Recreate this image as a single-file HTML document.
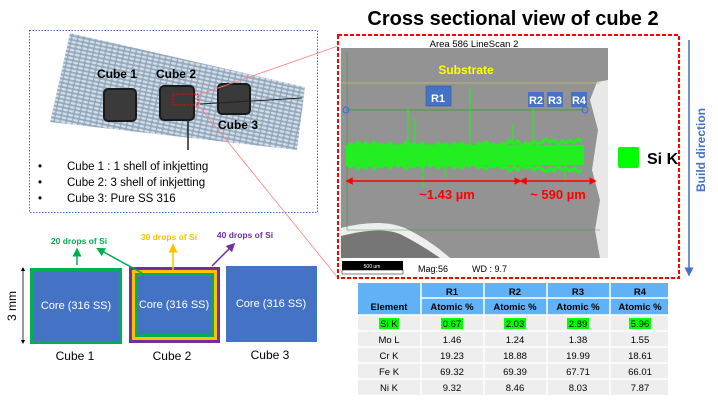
<!DOCTYPE html>
<html><head><meta charset="utf-8"><style>
body{margin:0;background:#fff;}
svg{display:block;font-family:"Liberation Sans",sans-serif;}
</style></head><body>
<svg width="718" height="400" viewBox="0 0 718 400" xmlns="http://www.w3.org/2000/svg">
<defs>
<pattern id="mesh" width="6" height="4" patternUnits="userSpaceOnUse" patternTransform="rotate(12)">
<rect width="6" height="4" fill="#93a8bd"/><ellipse cx="3" cy="2" rx="2.6" ry="1.2" fill="#d3dde8"/>
</pattern>
<marker id="ag" markerWidth="6" markerHeight="6" refX="3" refY="3" orient="auto"><path d="M0,0L6,3L0,6z" fill="#00b050"/></marker>
<marker id="ay" markerWidth="6" markerHeight="6" refX="3" refY="3" orient="auto"><path d="M0,0L6,3L0,6z" fill="#ffc000"/></marker>
<marker id="ap" markerWidth="6" markerHeight="6" refX="3" refY="3" orient="auto"><path d="M0,0L6,3L0,6z" fill="#7030a0"/></marker>
<marker id="ab" markerWidth="6" markerHeight="6" refX="3" refY="3" orient="auto"><path d="M0,0L6,3L0,6z" fill="#4472c4"/></marker>
<marker id="ar" markerWidth="5" markerHeight="5" refX="2.5" refY="2.5" orient="auto-start-reverse"><path d="M0,0L5,2.5L0,5z" fill="#ff0000"/></marker>
<marker id="ak" markerWidth="5" markerHeight="5" refX="2.5" refY="2.5" orient="auto-start-reverse"><path d="M0,0L5,2.5L0,5z" fill="#000"/></marker>
</defs>

<text x="513" y="25" font-size="20" font-weight="bold" text-anchor="middle">Cross sectional view of cube 2</text>

<rect x="29.5" y="30.5" width="288" height="182" fill="none" stroke="#4472c4" stroke-dasharray="1.5,1.5"/>
<polygon points="70,33 305,87 297,150 50,122" fill="url(#mesh)"/>
<rect x="104" y="89" width="32" height="32" rx="4" fill="#3a3a3a" stroke="#1a1a1a" stroke-width="2"/>
<rect x="160" y="86" width="34" height="34" rx="4" fill="#3a3a3a" stroke="#1a1a1a" stroke-width="2"/>
<rect x="218" y="84" width="32" height="30" rx="4" fill="#3a3a3a" stroke="#1a1a1a" stroke-width="2"/>
<line x1="188" y1="120" x2="188" y2="150" stroke="#222" stroke-width="1.5"/>
<line x1="200" y1="104" x2="302" y2="98" stroke="#222" stroke-width="1"/>
<rect x="173" y="94" width="25" height="11" fill="none" stroke="#f00" stroke-dasharray="2,1"/>
<text x="117" y="78" font-size="12" font-weight="bold" text-anchor="middle">Cube 1</text>
<text x="176" y="78" font-size="12" font-weight="bold" text-anchor="middle">Cube 2</text>
<text x="238" y="129" font-size="12" font-weight="bold" text-anchor="middle">Cube 3</text>
<line x1="198" y1="95" x2="338" y2="46" stroke="#ff8080" stroke-width="0.8"/>
<line x1="198" y1="105" x2="338" y2="278" stroke="#ff8080" stroke-width="0.8"/>
<g font-size="11.5">
<text x="38" y="170">•</text><text x="67" y="170">Cube 1 : 1 shell of inkjetting</text>
<text x="38" y="186">•</text><text x="67" y="186">Cube 2: 3 shell of inkjetting</text>
<text x="38" y="202">•</text><text x="67" y="202">Cube 3: Pure SS 316</text>
</g>

<rect x="31.5" y="269.5" width="89" height="73" fill="#4472c4" stroke="#00b050" stroke-width="3"/>
<rect x="129" y="267" width="91" height="76" fill="#7030a0"/>
<rect x="132" y="270" width="85" height="70" fill="#ffc000"/>
<rect x="135" y="273" width="79" height="64" fill="#00b050"/>
<rect x="138" y="276" width="73" height="58" fill="#4472c4"/>
<rect x="226" y="266" width="91" height="76" fill="#4472c4"/>
<g fill="#fff" font-size="11" text-anchor="middle">
<text x="76" y="309">Core (316 SS)</text>
<text x="174" y="308">Core (316 SS)</text>
<text x="271" y="307">Core (316 SS)</text>
</g>
<g font-size="12" text-anchor="middle">
<text x="75" y="360">Cube 1</text><text x="172" y="360">Cube 2</text><text x="270" y="359">Cube 3</text>
</g>
<line x1="23" y1="269" x2="23" y2="342" stroke="#000" stroke-width="0.8" marker-start="url(#ak)" marker-end="url(#ak)"/>
<text x="16" y="306" font-size="12" text-anchor="middle" transform="rotate(-90 16 306)">3 mm</text>
<line x1="77" y1="265" x2="77" y2="252" stroke="#00b050" stroke-width="1.5" marker-end="url(#ag)"/>
<line x1="142" y1="273" x2="100" y2="250" stroke="#00b050" stroke-width="1.5" marker-end="url(#ag)"/>
<line x1="173" y1="270" x2="173" y2="248" stroke="#ffc000" stroke-width="1.5" marker-end="url(#ay)"/>
<line x1="212" y1="266" x2="232" y2="246" stroke="#7030a0" stroke-width="1.5" marker-end="url(#ap)"/>
<text x="79" y="244" font-size="8.5" font-weight="bold" fill="#00b050" text-anchor="middle">20 drops of Si</text>
<text x="169" y="240" font-size="8.5" font-weight="bold" fill="#ffc000" text-anchor="middle">30 drops of Si</text>
<text x="245" y="238" font-size="8.5" font-weight="bold" fill="#7030a0" text-anchor="middle">40 drops of Si</text>

<rect x="338" y="35" width="341" height="243" fill="#fff" stroke="#ff0000" stroke-width="2" stroke-dasharray="4,2"/>
<text x="474" y="47" font-size="9.5" text-anchor="middle">Area 586 LineScan 2</text>
<rect x="341" y="48" width="267" height="210" fill="#939393"/>
<path d="M597,82 L608,80 L608,258 L600,258 L595,230 L600,200 L592,170 L598,130 L590,100 Z" fill="#e8e8e8"/>
<path d="M341,228 Q380,218 405,228 Q430,240 450,258 L341,258 Z" fill="#eeeeee"/>
<path d="M341,236 Q380,226 400,234 Q420,244 440,258 L341,258 Z" fill="#767676"/>
<line x1="341" y1="83" x2="600" y2="83" stroke="#c8c070" stroke-width="0.8"/>
<line x1="346" y1="110" x2="585" y2="110" stroke="#2a9a2a" stroke-width="0.8"/>
<circle cx="346" cy="110" r="3" fill="none" stroke="#4060ff"/>
<circle cx="585" cy="110" r="3" fill="none" stroke="#4060ff"/>
<line x1="347" y1="230" x2="600" y2="230" stroke="#3a9a3a" stroke-width="0.6"/>
<line x1="347" y1="52" x2="347" y2="230" stroke="#3a9a3a" stroke-width="0.6"/>
<text x="466" y="74" font-size="12" font-weight="bold" fill="#ffff00" text-anchor="middle">Substrate</text>
<rect x="426" y="86" width="25" height="20" fill="#4472c4" stroke="#2f528f" stroke-width="0.5"/>
<text x="438" y="102" font-size="11" font-weight="bold" fill="#fff" text-anchor="middle">R1</text>
<rect x="528" y="92" width="16" height="15" fill="#4472c4"/><text x="536" y="104" font-size="11" font-weight="bold" fill="#fff" text-anchor="middle">R2</text>
<rect x="547" y="92" width="16" height="15" fill="#4472c4"/><text x="555" y="104" font-size="11" font-weight="bold" fill="#fff" text-anchor="middle">R3</text>
<rect x="571" y="92" width="16" height="15" fill="#4472c4"/><text x="579" y="104" font-size="11" font-weight="bold" fill="#fff" text-anchor="middle">R4</text>
<rect x="346" y="145" width="238" height="20" fill="#22ee22"/>
<path d="M346,148 l4,-4 4,3 4,-5 4,4 4,-3 4,5 4,-6 4,4 4,-2 4,3 4,-4 4,5 4,-3 4,2 4,-5 4,4 4,-2 4,3 4,-4 4,5 4,-3 4,2 4,-4 4,3 4,-2 4,4 4,-5 4,3 4,-3 4,4 4,-2 4,3 4,-5 4,2 4,-3 4,4 4,-2 4,3 4,-4 4,2 4,-5 4,4 4,-3 4,5 4,-3 4,2 4,-4 4,3 4,-2 4,-3 4,4 4,-3 4,5 4,-4 4,2 4,-3 4,3 4,-4 4,2" stroke="#22ee22" stroke-width="3" fill="none"/>
<path d="M346,163 l4,4 4,-3 4,5 4,-4 4,3 4,-5 4,6 4,-4 4,2 4,-3 4,4 4,-5 4,3 4,-2 4,5 4,-4 4,2 4,-3 4,4 4,-5 4,3 4,-2 4,4 4,-3 4,2 4,-4 4,5 4,-3 4,3 4,-4 4,2 4,-3 4,5 4,-2 4,3 4,-4 4,2 4,-3 4,4 4,-2 4,5 4,-4 4,3 4,-5 4,3 4,-2 4,4 4,-3 4,2 4,3 4,-4 4,3 4,-5 4,4 4,-2 4,3 4,-3 4,4 4,-2" stroke="#22ee22" stroke-width="3" fill="none"/>
<g stroke="#22ee22" stroke-width="1.2">
<line x1="408" y1="145" x2="408" y2="108"/><line x1="415" y1="145" x2="415" y2="118"/><line x1="470" y1="145" x2="470" y2="87"/>
<line x1="513" y1="145" x2="513" y2="124"/><line x1="533" y1="145" x2="533" y2="108"/><line x1="423" y1="165" x2="423" y2="188"/>
<line x1="445" y1="165" x2="445" y2="178"/><line x1="565" y1="165" x2="565" y2="182"/>
</g>
<line x1="349" y1="181" x2="518" y2="181" stroke="#ff0000" stroke-width="1.5" marker-start="url(#ar)" marker-end="url(#ar)"/>
<line x1="523" y1="181" x2="593" y2="181" stroke="#ff0000" stroke-width="1.5" marker-start="url(#ar)" marker-end="url(#ar)"/>
<text x="447" y="199" font-size="13" font-weight="bold" fill="#ff0000" text-anchor="middle">~1.43 µm</text>
<text x="558" y="199" font-size="13" font-weight="bold" fill="#ff0000" text-anchor="middle">~ 590 µm</text>
<rect x="342" y="261" width="61" height="9" fill="#000"/>
<text x="372" y="268" font-size="5" fill="#fff" text-anchor="middle">500 um</text>
<rect x="342" y="270" width="61" height="4" fill="#fff" stroke="#000" stroke-width="0.5"/>
<text x="418" y="272" font-size="9">Mag:56</text>
<text x="472" y="272" font-size="9">WD : 9.7</text>
<rect x="618" y="147" width="21" height="21" rx="2" fill="#00ff00"/>
<text x="647" y="164" font-size="16" font-weight="bold">Si K</text>

<line x1="689" y1="40" x2="689" y2="272" stroke="#4472c4" stroke-width="1.5" marker-end="url(#ab)"/>
<text x="705" y="150" font-size="12" font-weight="bold" fill="#4472c4" text-anchor="middle" transform="rotate(-90 705 150)">Build direction</text>

<g font-size="9.5" text-anchor="middle">
<rect x="358" y="283" width="310" height="32" fill="#61b1f7"/>
<rect x="358" y="315" width="310" height="80" fill="#eeeeee"/>
<g stroke="#fff" stroke-width="1.5">
<line x1="421" y1="283" x2="421" y2="395"/><line x1="484" y1="283" x2="484" y2="395"/><line x1="547" y1="283" x2="547" y2="395"/><line x1="610" y1="283" x2="610" y2="395"/>
<line x1="421" y1="298" x2="668" y2="298"/><line x1="358" y1="315" x2="668" y2="315"/>
<line x1="358" y1="331" x2="668" y2="331"/><line x1="358" y1="347" x2="668" y2="347"/><line x1="358" y1="363" x2="668" y2="363"/><line x1="358" y1="379" x2="668" y2="379"/>
</g>
<g font-weight="bold">
<text x="452" y="295">R1</text><text x="515" y="295">R2</text><text x="578" y="295">R3</text><text x="640" y="295">R4</text>
<text x="389" y="310">Element</text><text x="452" y="310">Atomic %</text><text x="515" y="310">Atomic %</text><text x="578" y="310">Atomic %</text><text x="640" y="310">Atomic %</text>
</g>
<rect x="379" y="318" width="20" height="11" fill="#00ff00"/><rect x="441" y="318" width="22" height="11" fill="#00ff00"/><rect x="504" y="318" width="22" height="11" fill="#00ff00"/><rect x="567" y="318" width="22" height="11" fill="#00ff00"/><rect x="629" y="318" width="22" height="11" fill="#00ff00"/>
<text x="389" y="327">Si K</text><text x="452" y="327">0.67</text><text x="515" y="327">2.03</text><text x="578" y="327">2.89</text><text x="640" y="327">5.96</text>
<text x="389" y="343">Mo L</text><text x="452" y="343">1.46</text><text x="515" y="343">1.24</text><text x="578" y="343">1.38</text><text x="640" y="343">1.55</text>
<text x="389" y="359">Cr K</text><text x="452" y="359">19.23</text><text x="515" y="359">18.88</text><text x="578" y="359">19.99</text><text x="640" y="359">18.61</text>
<text x="389" y="375">Fe K</text><text x="452" y="375">69.32</text><text x="515" y="375">69.39</text><text x="578" y="375">67.71</text><text x="640" y="375">66.01</text>
<text x="389" y="391">Ni K</text><text x="452" y="391">9.32</text><text x="515" y="391">8.46</text><text x="578" y="391">8.03</text><text x="640" y="391">7.87</text>
</g>
</svg>
</body></html>
